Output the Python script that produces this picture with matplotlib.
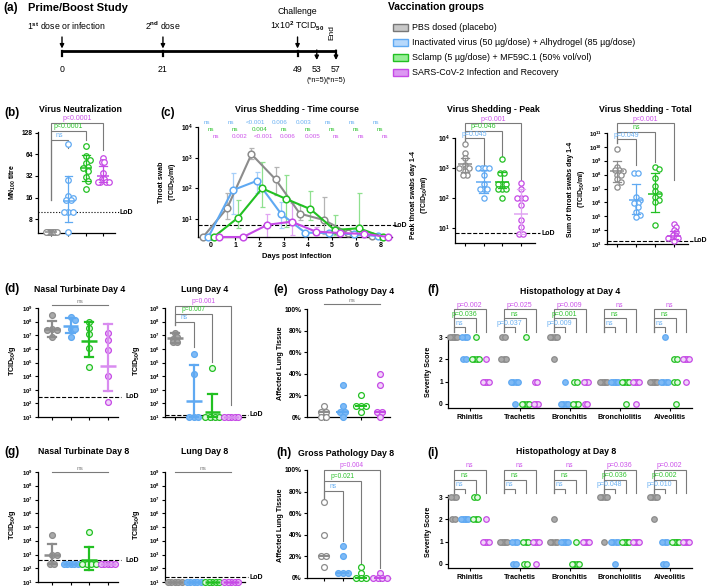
import numpy as np
import matplotlib
matplotlib.use('Agg')
import matplotlib.pyplot as plt
import matplotlib.transforms as mtransforms
from matplotlib.patches import Rectangle
from matplotlib.ticker import FuncFormatter, NullLocator, FixedLocator

W, H = 709, 587
plt.rcParams['font.family'] = ['Liberation Sans', 'DejaVu Sans']
plt.rcParams['font.weight'] = 'bold'
plt.rcParams['mathtext.fontset'] = 'custom'
plt.rcParams['mathtext.rm'] = 'Liberation Sans'
plt.rcParams['mathtext.bf'] = 'Liberation Sans:bold'
plt.rcParams['mathtext.it'] = 'Liberation Sans:italic'

# ---------------------------------------------------------------- data
groups = ['PBS dosed (placebo)',
          'Inactivated virus (50 µg/dose) + Alhydrogel (85 µg/dose)',
          'Sclamp (5 µg/dose) + MF59C.1 (50% vol/vol)',
          'SARS-CoV-2 Infection and Recovery']

timeline_days = [0, 21, 49, 53, 57]
timeline_tick_days = [0, 21, 49, 57]

# (b) virus neutralisation (MN100 titre)
mn_grey = [5.2] * 10
mn_blue = [90, 28, 17, 16, 15, 15, 10, 10, 10, 5.2]
mn_green = [84, 61, 54, 49, 43, 41, 37, 31, 27, 21]
mn_purple = [58, 50, 50, 35, 29, 29, 26, 26, 26, 26]
mn_center = [5.2, 14.5, 41, 32]
mn_low = [5.2, 7.2, 27, 26]
mn_high = [5.2, 32, 63, 44]
mn_lod = 10
mn_pvals = ['ns', 'p<0.0001', 'p<0.0001']

# (c) shedding time course
tc_days = ['0', '1', '2', '3', '4', '5', '6', '8']
tc_grey = [2.6, 23, 1300, 195, 15, 9.3, 3.5, 2.9]
tc_grey_lo = [2.6, 10, 900, 63, 9.5, 3.2, 3.0, 2.6]
tc_grey_hi = [2.6, 70, 2100, 510, 28, 52, 4.2, 3.2]
tc_blue = [2.6, 87, 175, 15, 3.6, 3.5, 3.2, 2.8]
tc_blue_lo = [2.6, 15, 70, 5, 3.0, 3.0, 2.9, 2.6]
tc_blue_hi = [2.6, 310, 350, 36, 4.2, 4.0, 3.6, 3.0]
tc_green = [2.6, 11, 100, 45, 21, 4.4, 5, 2.6]
tc_green_lo = [2.6, 5, 25, 5.6, 9, 3, 3, 2.6]
tc_green_hi = [2.6, 41, 750, 280, 82, 13.5, 70, 2.6]
tc_purple = [2.6, 2.6, 6.5, 8.2, 3.9, 3.5, 3.3, 2.6]
tc_purple_lo = [2.6, 2.6, 2.6, 3.0, 3.0, 3.0, 3.0, 2.6]
tc_purple_hi = [2.6, 2.6, 15, 34, 5.5, 4.0, 4.0, 2.6]
tc_lod = 6.3
tc_p_blue = ['ns', 'ns', '<0.001', '0.006', '0.003', 'ns', 'ns', 'ns']
tc_p_green = ['ns', 'ns', '0.004', 'ns', 'ns', 'ns', 'ns', 'ns']
tc_p_purple = ['ns', '0.002', '<0.001', '0.006', '0.005', 'ns', 'ns', 'ns']

# peak shedding
pk_grey = [6200, 3100, 2100, 1300, 1000, 1000, 1000, 800, 600, 600]
pk_blue = [1000, 1000, 1000, 1000, 600, 300, 200, 200, 200, 100]
pk_green = [2000, 700, 700, 300, 300, 300, 200, 200, 200, 100]
pk_purple = [310, 200, 100, 100, 100, 60, 19, 11, 6.3, 6.3]
pk_center = [1350, 330, 330, 30]
pk_low = [760, 145, 210, 6.3]
pk_high = [2100, 850, 760, 200]
pk_lod = 6.6
pk_pvals = ['p=0.045', 'p=0.046', 'p<0.001']

# total shedding
tt_grey = [6.6e9, 3.7e8, 2e8, 2e8, 1.7e8, 1e8, 9e7, 5e7, 3e7, 1.2e7]
tt_blue = [1.4e8, 1.4e8, 2.6e6, 1.5e6, 8.6e5, 8.6e5, 4.4e5, 2.1e5, 1.2e5, 8.3e4]
tt_green = [3.7e8, 2.4e8, 5.3e7, 1.5e7, 6.6e6, 4e6, 2.5e6, 1.5e6, 1e6, 2.3e4]
tt_purple = [2.6e4, 1.8e4, 1e4, 7e3, 4.5e3, 4.5e3, 2.6e3, 2.6e3, 2.6e3, 1.6e3]
tt_center = [1.9e8, 1.5e6, 3.8e6, 4e3]
tt_low = [3e7, 1.5e5, 2.1e5, 2.2e3]
tt_high = [9.5e8, 2e7, 1.4e8, 8e3]
tt_lod = 1.7e3
tt_pvals = ['p=0.049', 'ns', 'p<0.001']

# (d) day 4 viral load
nt4_grey = [3.2e8, 3e7, 2.5e7, 2.5e7, 8e6]
nt4_blue = [2.1e8, 1.4e8, 3e7, 2.8e7, 7e6]
nt4_green = [1e8, 3.3e7, 1.2e7, 1.2e6, 4.9e4]
nt4_purple = [1.4e7, 4.6e6, 8.4e5, 1e4, 1.3e2]
nt4_center = [2.8e7, 4.5e7, 3.5e6, 5.5e4]
nt4_low = [8e6, 1.4e7, 2.4e5, 7.8e2]
nt4_high = [1.2e8, 1.8e8, 1e8, 6.6e7]
nt4_lod = 300
lu4_grey = [1.5e7, 7e6, 5e6, 3e6, 3e6]
lu4_blue = [4e5, 1.4e4, 10, 10, 10]
lu4_green = [4e4, 10, 10, 10, 10]
lu4_purple = [10, 10, 10, 10, 10]
lu4_center = [6e6, 1.6e2, 25, 10]
lu4_low = [2.9e6, 10, 10, 10]
lu4_high = [1.4e7, 6.5e4, 500, 10]
lu4_lod = 15
lu4_pvals = ['ns', 'p=0.007', 'p=0.001']

# (e) gross pathology day 4 (% affected)
gp4_grey = [10, 5, 5, 0, 0]
gp4_blue = [30, 10, 5, 5, 0]
gp4_green = [20, 10, 10, 10, 5]
gp4_purple = [40, 30, 5, 5, 0]
gp4_median = [5, 5, 10, 5]

# (f) / (i) histopathology severity scores
histo_categories = ['Rhinitis', 'Trachetis', 'Bronchitis', 'Bronchiolitis', 'Alveolitis']
h4_rhinitis = [[3, 3, 3, 3, 3], [3, 3, 3, 2, 2], [3, 2, 2, 2, 2], [2, 1, 1, 1, 1]]
h4_trachetis = [[3, 3, 2, 2, 2], [1, 1, 1, 1, 0], [3, 0, 0, 0, 0], [1, 1, 0, 0, 0]]
h4_bronchitis = [[3, 3, 3, 3, 2], [1, 0, 0, 0, 0], [1, 1, 0, 0, 0], [1, 1, 1, 0, 0]]
h4_bronchiolitis = [[1, 1, 1, 1, 1], [1, 1, 1, 1, 1], [1, 1, 1, 1, 0], [1, 1, 1, 1, 0]]
h4_alveolitis = [[1, 1, 1, 1, 1], [3, 1, 1, 1, 1], [2, 2, 1, 1, 0], [2, 2, 2, 2, 1]]
h4_pvals = [['ns', 'p=0.036', 'p=0.002'], ['p=0.037', 'ns', 'p=0.025'],
            ['p=0.009', 'p=0.001', 'p=0.009'], ['ns', 'ns', 'ns'], ['ns', 'ns', 'ns']]

# (g) day 8 viral load
nt8_grey = [2.5e4, 1e3, 900, 200, 200]
nt8_blue = [200, 200, 200, 200, 200]
nt8_green = [4.5e4, 200, 200, 200, 200]
nt8_purple = [200, 200, 200, 200, 200]
nt8_center = [950, 200, 420, 200]
nt8_low = [200, 200, 70, 200]
nt8_high = [6.2e3, 200, 3.6e3, 200]
nt8_lod = 380
lu8_grey = [10] * 5
lu8_blue = [10] * 5
lu8_green = [10] * 5
lu8_purple = [10] * 5
lu8_lod = 23

# (h) gross pathology day 8
gp8_grey = [70, 40, 20, 20, 10]
gp8_blue = [30, 20, 5, 5, 5]
gp8_green = [10, 5, 0, 0, 0]
gp8_purple = [5, 0, 0, 0, 0]
gp8_median = [20, 5, 0, 0]
gp8_pvals = ['ns', 'p=0.021', 'p=0.004']

h8_rhinitis = [[3, 3, 3, 2, 2], [2, 2, 2, 2, 2], [3, 3, 2, 2, 2], [2, 1, 1, 1, 1]]
h8_trachetis = [[1, 1, 1, 1, 1], [1, 1, 1, 0, 0], [1, 1, 1, 0, 0], [1, 1, 1, 1, 0]]
h8_bronchitis = [[2, 1, 1, 1, 1], [1, 1, 1, 1, 1], [1, 0, 0, 0, 0], [1, 1, 1, 1, 1]]
h8_bronchiolitis = [[3, 3, 3, 3, 1], [1, 1, 1, 1, 0], [1, 1, 1, 1, 1], [1, 1, 1, 1, 1]]
h8_alveolitis = [[3, 3, 3, 3, 2], [1, 1, 1, 0, 0], [1, 1, 1, 1, 1], [1, 1, 1, 1, 1]]
h8_pvals = [['ns', 'ns', 'ns'], ['ns', 'ns', 'ns'], ['ns', 'ns', 'ns'],
            ['p=0.048', 'p=0.036', 'p=0.036'], ['p=0.010', 'p=0.002', 'p=0.002']]

# ---------------------------------------------------------------- style
COL = ['#8c8c8c', '#5fa9f2', '#22c022', '#c64ae6']
TXT = ['#8c8c8c', '#6ab0f2', '#2ec22e', '#cc52ea']
LIGHT = ['#b4b4b4', '#a6cff8', '#8fe08f', '#e0a4f2']
LEG_FACE = ['#c8c8c8', '#b6d8fb', '#96ee96', '#dc98f2']
BRK = '#7a7a7a'

fig = plt.figure(figsize=(W / 100, H / 100), dpi=100)
PX = mtransforms.Affine2D().scale(1.0 / W, -1.0 / H).translate(0, 1) + fig.transFigure


def px_axes(x0, y0, x1, y1):
    return fig.add_axes([x0 / W, 1 - y1 / H, (x1 - x0) / W, (y1 - y0) / H])


def ptext(x, y, s, **kw):
    kw.setdefault('ha', 'left')
    kw.setdefault('va', 'center')
    return fig.text(x, y, s, transform=PX, **kw)


def log_fmt(v, pos):
    return r'$\mathbf{10^{%d}}$' % int(round(np.log10(v)))


def style(ax, fs=4.8):
    for s in ('top', 'right'):
        ax.spines[s].set_visible(False)
    for s in ('left', 'bottom'):
        ax.spines[s].set_linewidth(0.9)
    ax.tick_params(axis='both', which='major', length=2.5, width=0.8, labelsize=fs, pad=1.2)
    ax.tick_params(axis='both', which='minor', length=0)
    ax.patch.set_alpha(0)


def set_log(ax, lo, hi, ticks):
    ax.set_yscale('log')
    ax.set_ylim(lo, hi)
    ax.yaxis.set_major_locator(FixedLocator(ticks))
    ax.yaxis.set_minor_locator(NullLocator())
    ax.yaxis.set_major_formatter(FuncFormatter(log_fmt))


def swarm_x(ax, xc, vals, d_px, max_half=None):
    vals = np.asarray(vals, float)
    pts = ax.transData.transform(np.column_stack([np.full(len(vals), xc), vals]))
    ypx = pts[:, 1]
    ppu = ax.transData.transform([[xc + 1, vals[0]]])[0, 0] - pts[0, 0]
    order = np.argsort(-ypx)
    offs = np.zeros(len(vals))
    placed = []
    cands = [0.0]
    for k in range(1, 60):
        cands += [k * d_px / 2, -k * d_px / 2]
    for i in order:
        for c in cands:
            if all((c - po) ** 2 + (ypx[i] - py) ** 2 >= (d_px * 0.98) ** 2 for po, py in placed):
                offs[i] = c
                placed.append((c, ypx[i]))
                break
    for v in np.unique(vals):
        m = vals == v
        if m.sum() > 1:
            offs[m] -= offs[m].mean()
    if max_half is not None and np.abs(offs).max() > max_half:
        offs *= max_half / np.abs(offs).max()
    return xc + offs / ppu


def dots(ax, xc, vals, g, face, ms=4.3, d_px=5.5, max_half=None, lw=0.9):
    xs = swarm_x(ax, xc, vals, d_px, max_half)
    ax.scatter(xs, vals, s=ms ** 2, facecolors=face, edgecolors=COL[g], linewidths=lw,
               zorder=3, clip_on=False)


def meanbar(ax, xc, c, lo, hi, g, half=0.3, cap=0.18, lw=0.9, col=None):
    col = COL[g] if col is None else col
    ax.plot([xc - half, xc + half], [c, c], color=col, lw=lw + 0.2, zorder=4, clip_on=False,
            solid_capstyle='butt')
    if hi > lo:
        ax.plot([xc, xc], [lo, hi], color=col, lw=lw, zorder=4, clip_on=False)
        ax.plot([xc - cap, xc + cap], [hi, hi], color=col, lw=lw, zorder=4, clip_on=False)
        ax.plot([xc - cap, xc + cap], [lo, lo], color=col, lw=lw, zorder=4, clip_on=False)


def bracket(ax, xa, xb, y_line, y_left, y_right, text, color, fs=4.8):
    tr = mtransforms.blended_transform_factory(ax.transData, PX)
    ax.plot([xa, xa, xb, xb], [y_left, y_line, y_line, y_right], color=BRK, lw=0.8,
            transform=tr, clip_on=False, solid_joinstyle='miter')
    ax.text((xa + xb) / 2, y_line - 0.6, text, color=color, fontsize=fs, fontweight='normal',
            ha='center', va='bottom', transform=tr)


def flatline(ax, xa, xb, y_line, text, fs=4.8):
    tr = mtransforms.blended_transform_factory(ax.transData, PX)
    ax.plot([xa, xb], [y_line, y_line], color=BRK, lw=0.8, transform=tr, clip_on=False)
    ax.text((xa + xb) / 2, y_line - 0.6, text, color=BRK, fontsize=fs, fontweight='normal',
            ha='center', va='bottom', transform=tr)


def lod(ax, y, x_end, label_x, ls='--', label='LoD'):
    tr = mtransforms.blended_transform_factory(ax.transAxes, ax.transData)
    ax.plot([0, x_end], [y, y], color='black', lw=0.8, ls=ls, transform=tr, clip_on=False,
            zorder=2)
    trp = mtransforms.blended_transform_factory(PX, ax.transData)
    ax.text(label_x, y, label, fontsize=5, ha='left', va='center', transform=trp)


def grp_panel(box, left_units, right_units):
    ax = px_axes(*box)
    style(ax)
    ax.set_xlim(left_units, right_units)
    ax.set_xticks([1, 2, 3, 4])
    ax.set_xticklabels([])
    return ax


TITLE_FS = 6.3
ROW1_Y = 110

# ---------------------------------------------------------------- (a)
ptext(3, 8, '(a)', fontsize=8.5)
ptext(28, 8, 'Prime/Boost Study', fontsize=8)
axa = px_axes(62, 0, 336, 90)
axa.set_xlim(0, 57)
axa.set_ylim(90, 0)
axa.axis('off')
axa.plot([0, 57], [51, 51], color='black', lw=2.0, solid_capstyle='butt', clip_on=False)
for d in timeline_tick_days:
    axa.plot([d, d], [51, 56], color='black', lw=1.6, clip_on=False)
for d in timeline_days[:3]:
    axa.annotate('', xy=(d, 48.5), xytext=(d, 37), annotation_clip=False,
                 arrowprops=dict(arrowstyle='-|>', color='black', lw=1.0, mutation_scale=6,
                                 shrinkA=0, shrinkB=0))
for d in timeline_days[3:]:
    axa.annotate('', xy=(d, 60), xytext=(d, 50), annotation_clip=False,
                 arrowprops=dict(arrowstyle='-|>', color='black', lw=1.0, mutation_scale=6,
                                 shrinkA=0, shrinkB=0))
for d in timeline_days:
    axa.text(d, 69, str(d), fontsize=6.3, fontweight='normal', ha='center', va='center')
for d in timeline_days[3:]:
    axa.text(d, 81, '(*n=5)', fontsize=5.2, fontweight='normal', ha='center', va='center')
axa.text(1, 26, r'1$^{\mathrm{st}}$ dose or infection', fontsize=6.3, fontweight='normal',
         ha='center', va='center')
axa.text(21, 26, r'2$^{\mathrm{nd}}$ dose', fontsize=6.3, fontweight='normal', ha='center',
         va='center')
axa.text(49, 11, 'Challenge', fontsize=6.3, fontweight='normal', ha='center', va='center')
axa.text(49, 26, r'1x10$^{2}$ TCID$_{50}$', fontsize=6.3, fontweight='normal', ha='center',
         va='center')
axa.text(56.2, 33, 'End', fontsize=6, fontweight='normal', ha='center', va='center', rotation=90)

# legend
ptext(388, 7, 'Vaccination groups', fontsize=7.5)
for g, name in enumerate(groups):
    yc = 27.7 + 15 * g
    fig.patches.append(Rectangle((393, yc - 3.3), 15, 6.6, transform=PX, facecolor=LEG_FACE[g],
                                 edgecolor=COL[g] if g else '#777777', lw=1.0))
    ptext(412.5, yc, name, fontsize=6.4, fontweight='normal')

# ---------------------------------------------------------------- (b)
ptext(4, 113, '(b)', fontsize=8.5)
ptext(80, ROW1_Y, 'Virus Neutralization', fontsize=TITLE_FS, ha='center')
axb = px_axes(38, 132, 115, 233)
style(axb)
axb.set_yscale('log', base=2)
axb.set_ylim(5.1, 132)
axb.yaxis.set_major_locator(FixedLocator([8, 16, 32, 64, 128]))
axb.yaxis.set_minor_locator(NullLocator())
axb.yaxis.set_major_formatter(FuncFormatter(lambda v, p: '%d' % v))
axb.set_xlim(0.25, 4.69)
axb.set_xticks([1, 2, 3, 4])
axb.set_xticklabels([])
lod(axb, mn_lod, 1.05, 119, ls=':')
for g, vals in enumerate([mn_grey, mn_blue, mn_green, mn_purple]):
    dots(axb, g + 1, vals, g, 'white', ms=4.0, d_px=4.5, max_half=5.5)
    meanbar(axb, g + 1, mn_center[g], mn_low[g], mn_high[g], g, half=0.32, cap=0.22)
ptext(13, 182, r'MN$_{\mathbf{100}}$ titre', fontsize=5, rotation=90, ha='center')
for i, (yl, yr) in enumerate([(140, 148), (130.7, 140), (122.7, 150)]):
    bracket(axb, 1, i + 2, yl, 200, yr, mn_pvals[i], TXT[i + 1], fs=5.0)

# ---------------------------------------------------------------- (c)
ptext(160, 113, '(c)', fontsize=8.5)
axc = px_axes(198, 127, 392, 237)
style(axc)
set_log(axc, 2.6, 1e4, [1e1, 1e2, 1e3, 1e4])
axc.set_xlim(-0.54, 7.48)
xd = np.arange(len(tc_days))
axc.set_xticks(xd)
axc.set_xticklabels(tc_days, fontsize=5)
ptext(297, ROW1_Y, 'Virus Shedding - Time course', fontsize=TITLE_FS, ha='center')
ptext(297, 256, 'Days post infection', fontsize=5.4, ha='center')
ptext(168, 182, 'Throat swab\n' + r'(TCID$_{\mathbf{50}}$/ml)', fontsize=5, rotation=90,
      ha='center', multialignment='center')
lod(axc, tc_lod, 1.02, 393)
tc_off = [-0.33, -0.11, 0.11, 0.33]
series = [(tc_grey, tc_grey_lo, tc_grey_hi), (tc_blue, tc_blue_lo, tc_blue_hi),
          (tc_green, tc_green_lo, tc_green_hi), (tc_purple, tc_purple_lo, tc_purple_hi)]
for g, (v, lo, hi) in enumerate(series):
    v, lo, hi = np.array(v), np.array(lo), np.array(hi)
    xs = xd + tc_off[g]
    m = hi > v * 1.05
    axc.errorbar(xs[m], v[m], yerr=[v[m] - lo[m], hi[m] - v[m]], fmt='none', ecolor=LIGHT[g],
                 elinewidth=0.9, capsize=1.8, capthick=0.9, zorder=2, clip_on=False)
for g, (v, lo, hi) in enumerate(series):
    xs = xd + tc_off[g]
    axc.plot(xs, v, '-o', color=COL[g], mfc='white', mec=COL[g], ms=4.8, mew=1.1, lw=1.5,
             zorder=3 + g, clip_on=False)
tr_c = mtransforms.blended_transform_factory(axc.transData, PX)
for r, (row, yy, off) in enumerate([(tc_p_blue, 122, -0.18), (tc_p_green, 129.5, 0.0),
                                    (tc_p_purple, 137, 0.18)]):
    for i, s in enumerate(row):
        axc.text(i + off, yy, s, color=TXT[r + 1], fontsize=4.5, fontweight='normal',
                 ha='center', va='center', transform=tr_c)

# ---------------------------------------------------------------- peak
axp = px_axes(455, 138, 535, 243)
style(axp)
set_log(axp, 3.16, 1e4, [1e1, 1e2, 1e3, 1e4])
axp.set_xlim(0.47, 4.75)
axp.set_xticks([1, 2, 3, 4])
axp.set_xticklabels([])
ptext(493, ROW1_Y, 'Virus Shedding - Peak', fontsize=TITLE_FS, ha='center')
ptext(420, 195, 'Peak throat swabs day 1-4\n' + r'(TCID$_{\mathbf{50}}$/ml)', fontsize=5,
      rotation=90, ha='center', multialignment='center')
lod(axp, pk_lod, 1.06, 541)
for g, vals in enumerate([pk_grey, pk_blue, pk_green, pk_purple]):
    dots(axp, g + 1, vals, g, 'white', ms=3.8, d_px=4.2, max_half=5.5)
    meanbar(axp, g + 1, pk_center[g], pk_low[g], pk_high[g], g, half=0.38, cap=0.22,
            col=COL[g] if g != 3 else LIGHT[3])
for i, (yl, yr) in enumerate([(138.3, 165), (130.7, 156.7), (123.3, 180)]):
    bracket(axp, 1, i + 2, yl, 141, yr, pk_pvals[i], TXT[i + 1], fs=5.0)

# ---------------------------------------------------------------- total
axt = px_axes(607, 133, 688, 244)
style(axt)
set_log(axt, 1e3, 1e11, [10.0 ** k for k in range(3, 12)])
axt.tick_params(axis='y', labelsize=4.2)
axt.set_xlim(0.47, 4.74)
axt.set_xticks([1, 2, 3, 4])
axt.set_xticklabels([])
ptext(645, ROW1_Y, 'Virus Shedding - Total', fontsize=TITLE_FS, ha='center')
ptext(577, 189, 'Sum of throat swabs day 1-4\n' + r'(TCID$_{\mathbf{50}}$/ml)', fontsize=5,
      rotation=90, ha='center', multialignment='center')
lod(axt, tt_lod, 1.06, 694)
for g, vals in enumerate([tt_grey, tt_blue, tt_green, tt_purple]):
    dots(axt, g + 1, vals, g, 'white', ms=3.8, d_px=4.2, max_half=5.5)
    meanbar(axt, g + 1, tt_center[g], tt_low[g], tt_high[g], g, half=0.38, cap=0.22)
for i, (yl, yr) in enumerate([(139.3, 165), (131.7, 161.7), (123.3, 180)]):
    bracket(axt, 1, i + 2, yl, 143.3, yr, tt_pvals[i], TXT[i + 1], fs=5.0)

# ---------------------------------------------------------------- (d) / (g)
FACE_F = ['#a9a9a9', '#7fbaf5', '#e2f9e2', '#f1d4f9']

panels_dg = [
    ((38, 308, 118, 417), (0.25, 4.55), [nt4_grey, nt4_blue, nt4_green, nt4_purple],
     (nt4_center, nt4_low, nt4_high), nt4_lod, 126),
    ((165, 308, 245, 417), (0.47, 4.74), [lu4_grey, lu4_blue, lu4_green, lu4_purple],
     (lu4_center, lu4_low, lu4_high), lu4_lod, 249),
    ((38, 472, 118, 582), (0.25, 4.55), [nt8_grey, nt8_blue, nt8_green, nt8_purple],
     (nt8_center, nt8_low, nt8_high), nt8_lod, 126),
    ((165, 472, 245, 582), (0.47, 4.74), [lu8_grey, lu8_blue, lu8_green, lu8_purple],
     None, lu8_lod, 249),
]
dg_axes = []
for box, (xl, xr), data, stats, lodv, lx in panels_dg:
    ax = grp_panel(box, xl, xr)
    set_log(ax, 10, 1e9, [10.0 ** k for k in range(1, 10)])
    ax.tick_params(axis='y', labelsize=4.3)
    lod(ax, lodv, 1.04, lx)
    for g, vals in enumerate(data):
        dots(ax, g + 1, vals, g, FACE_F[g], ms=4.2, d_px=4.8, max_half=7)
        if stats is not None:
            meanbar(ax, g + 1, stats[0][g], stats[1][g], stats[2][g], g, half=0.42, cap=0.22,
                    lw=1.6, col=COL[g] if g != 3 else '#d98cf0')
        else:
            meanbar(ax, g + 1, vals[0], vals[0], vals[0], g, half=0.42, lw=1.6)
    ylab_x = 12 if box[0] < 100 else 137
    ptext(ylab_x, (box[1] + box[3]) / 2 - 2, r'TCID$_{\mathbf{50}}$/g', fontsize=5.2,
          rotation=90, ha='center')
    dg_axes.append(ax)

ax_nt4, ax_lu4, ax_nt8, ax_lu8 = dg_axes
ptext(4, 289, '(d)', fontsize=8.5)
ptext(80, 289, 'Nasal Turbinate Day 4', fontsize=TITLE_FS, ha='center')
ptext(205, 289, 'Lung Day 4', fontsize=TITLE_FS, ha='center')
flatline(ax_nt4, 1, 4, 305, 'ns', fs=4.6)
for i, (yl, yr) in enumerate([(322, 347), (314, 362), (306, 405)]):
    bracket(ax_lu4, 1, i + 2, yl, 325, yr, lu4_pvals[i], TXT[i + 1], fs=4.8)

ptext(4, 452, '(g)', fontsize=8.5)
ptext(84, 452, 'Nasal Turbinate Day 8', fontsize=TITLE_FS, ha='center')
ptext(205, 452, 'Lung Day 8', fontsize=TITLE_FS, ha='center')
flatline(ax_nt8, 1, 4, 471.7, 'ns', fs=4.6)
flatline(ax_lu8, 1, 4, 471.7, 'ns', fs=4.6)

# ---------------------------------------------------------------- (e) / (h)
FACE_E = ['white', '#7fbaf5', 'white', '#f1d4f9']
pct = FuncFormatter(lambda v, p: '%d%%' % v)
gp_axes = []
for box, data, med, lab_y in [((307, 309, 390, 417), [gp4_grey, gp4_blue, gp4_green, gp4_purple],
                               gp4_median, 363),
                              ((307, 470, 390, 578), [gp8_grey, gp8_blue, gp8_green, gp8_purple],
                               gp8_median, 525)]:
    ax = grp_panel(box, 0.09, 4.54)
    ax.set_ylim(0, 100)
    ax.set_yticks([0, 20, 40, 60, 80, 100])
    ax.yaxis.set_major_formatter(pct)
    for g, vals in enumerate(data):
        dots(ax, g + 1, vals, g, FACE_E[g], ms=4.2, d_px=5.0, max_half=7)
        meanbar(ax, g + 1, med[g], med[g], med[g], g, half=0.33, lw=1.3)
    ptext(280, lab_y, 'Affected Lung Tissue', fontsize=5.2, rotation=90, ha='center')
    gp_axes.append(ax)
ax_gp4, ax_gp8 = gp_axes

ptext(273, 290, '(e)', fontsize=8.5)
ptext(346, 292, 'Gross Pathology Day 4', fontsize=TITLE_FS, ha='center')
flatline(ax_gp4, 1, 4, 304, 'ns', fs=4.6)
ptext(276, 453, '(h)', fontsize=8.5)
ptext(346, 454, 'Gross Pathology Day 8', fontsize=TITLE_FS, ha='center')
for i, (yl, yr) in enumerate([(491, 541), (481, 565), (470, 568)]):
    bracket(ax_gp8, 1, i + 2, yl, 498, yr, gp8_pvals[i], TXT[i + 1], fs=4.8)

# ---------------------------------------------------------------- (f) / (i)
h_off = [-0.33, -0.11, 0.11, 0.32]
for box, cats, pv, lines, leg_end, ylab_y in [
        ((448, 335, 692, 408), [h4_rhinitis, h4_trachetis, h4_bronchitis, h4_bronchiolitis,
                                h4_alveolitis], h4_pvals, (327.3, 318.3, 309.3), 332, 372),
        ((448, 495, 692, 568), [h8_rhinitis, h8_trachetis, h8_bronchitis, h8_bronchiolitis,
                                h8_alveolitis], h8_pvals, (489, 480, 470), 493, 532)]:
    ax = px_axes(*box)
    style(ax)
    ax.set_ylim(-0.18, 3.09)
    ax.set_yticks([0, 1, 2, 3])
    ax.set_xlim(-0.44, 4.44)
    ax.set_xticks(range(len(histo_categories)))
    ax.set_xticklabels(histo_categories, fontsize=5.2)
    ax.tick_params(axis='x', pad=2)
    for c, cat in enumerate(cats):
        for g, vals in enumerate(cat):
            dots(ax, c + h_off[g], vals, g, FACE_F[g], ms=4.0, d_px=2.2, max_half=3.2, lw=0.9)
        for i in range(3):
            bracket(ax, c + h_off[0], c + h_off[i + 1], lines[i], leg_end, leg_end, pv[c][i],
                    TXT[i + 1], fs=5.0)
    ptext(429, ylab_y, 'Severity Score', fontsize=5.2, rotation=90, ha='center')

ptext(427, 290, '(f)', fontsize=8.5)
ptext(570, 292, 'Histopathology at Day 4', fontsize=TITLE_FS, ha='center')
ptext(427, 453, '(i)', fontsize=8.5)
ptext(566, 452, 'Histopathology at Day 8', fontsize=TITLE_FS, ha='center')

fig.savefig('out.png', dpi=100)
